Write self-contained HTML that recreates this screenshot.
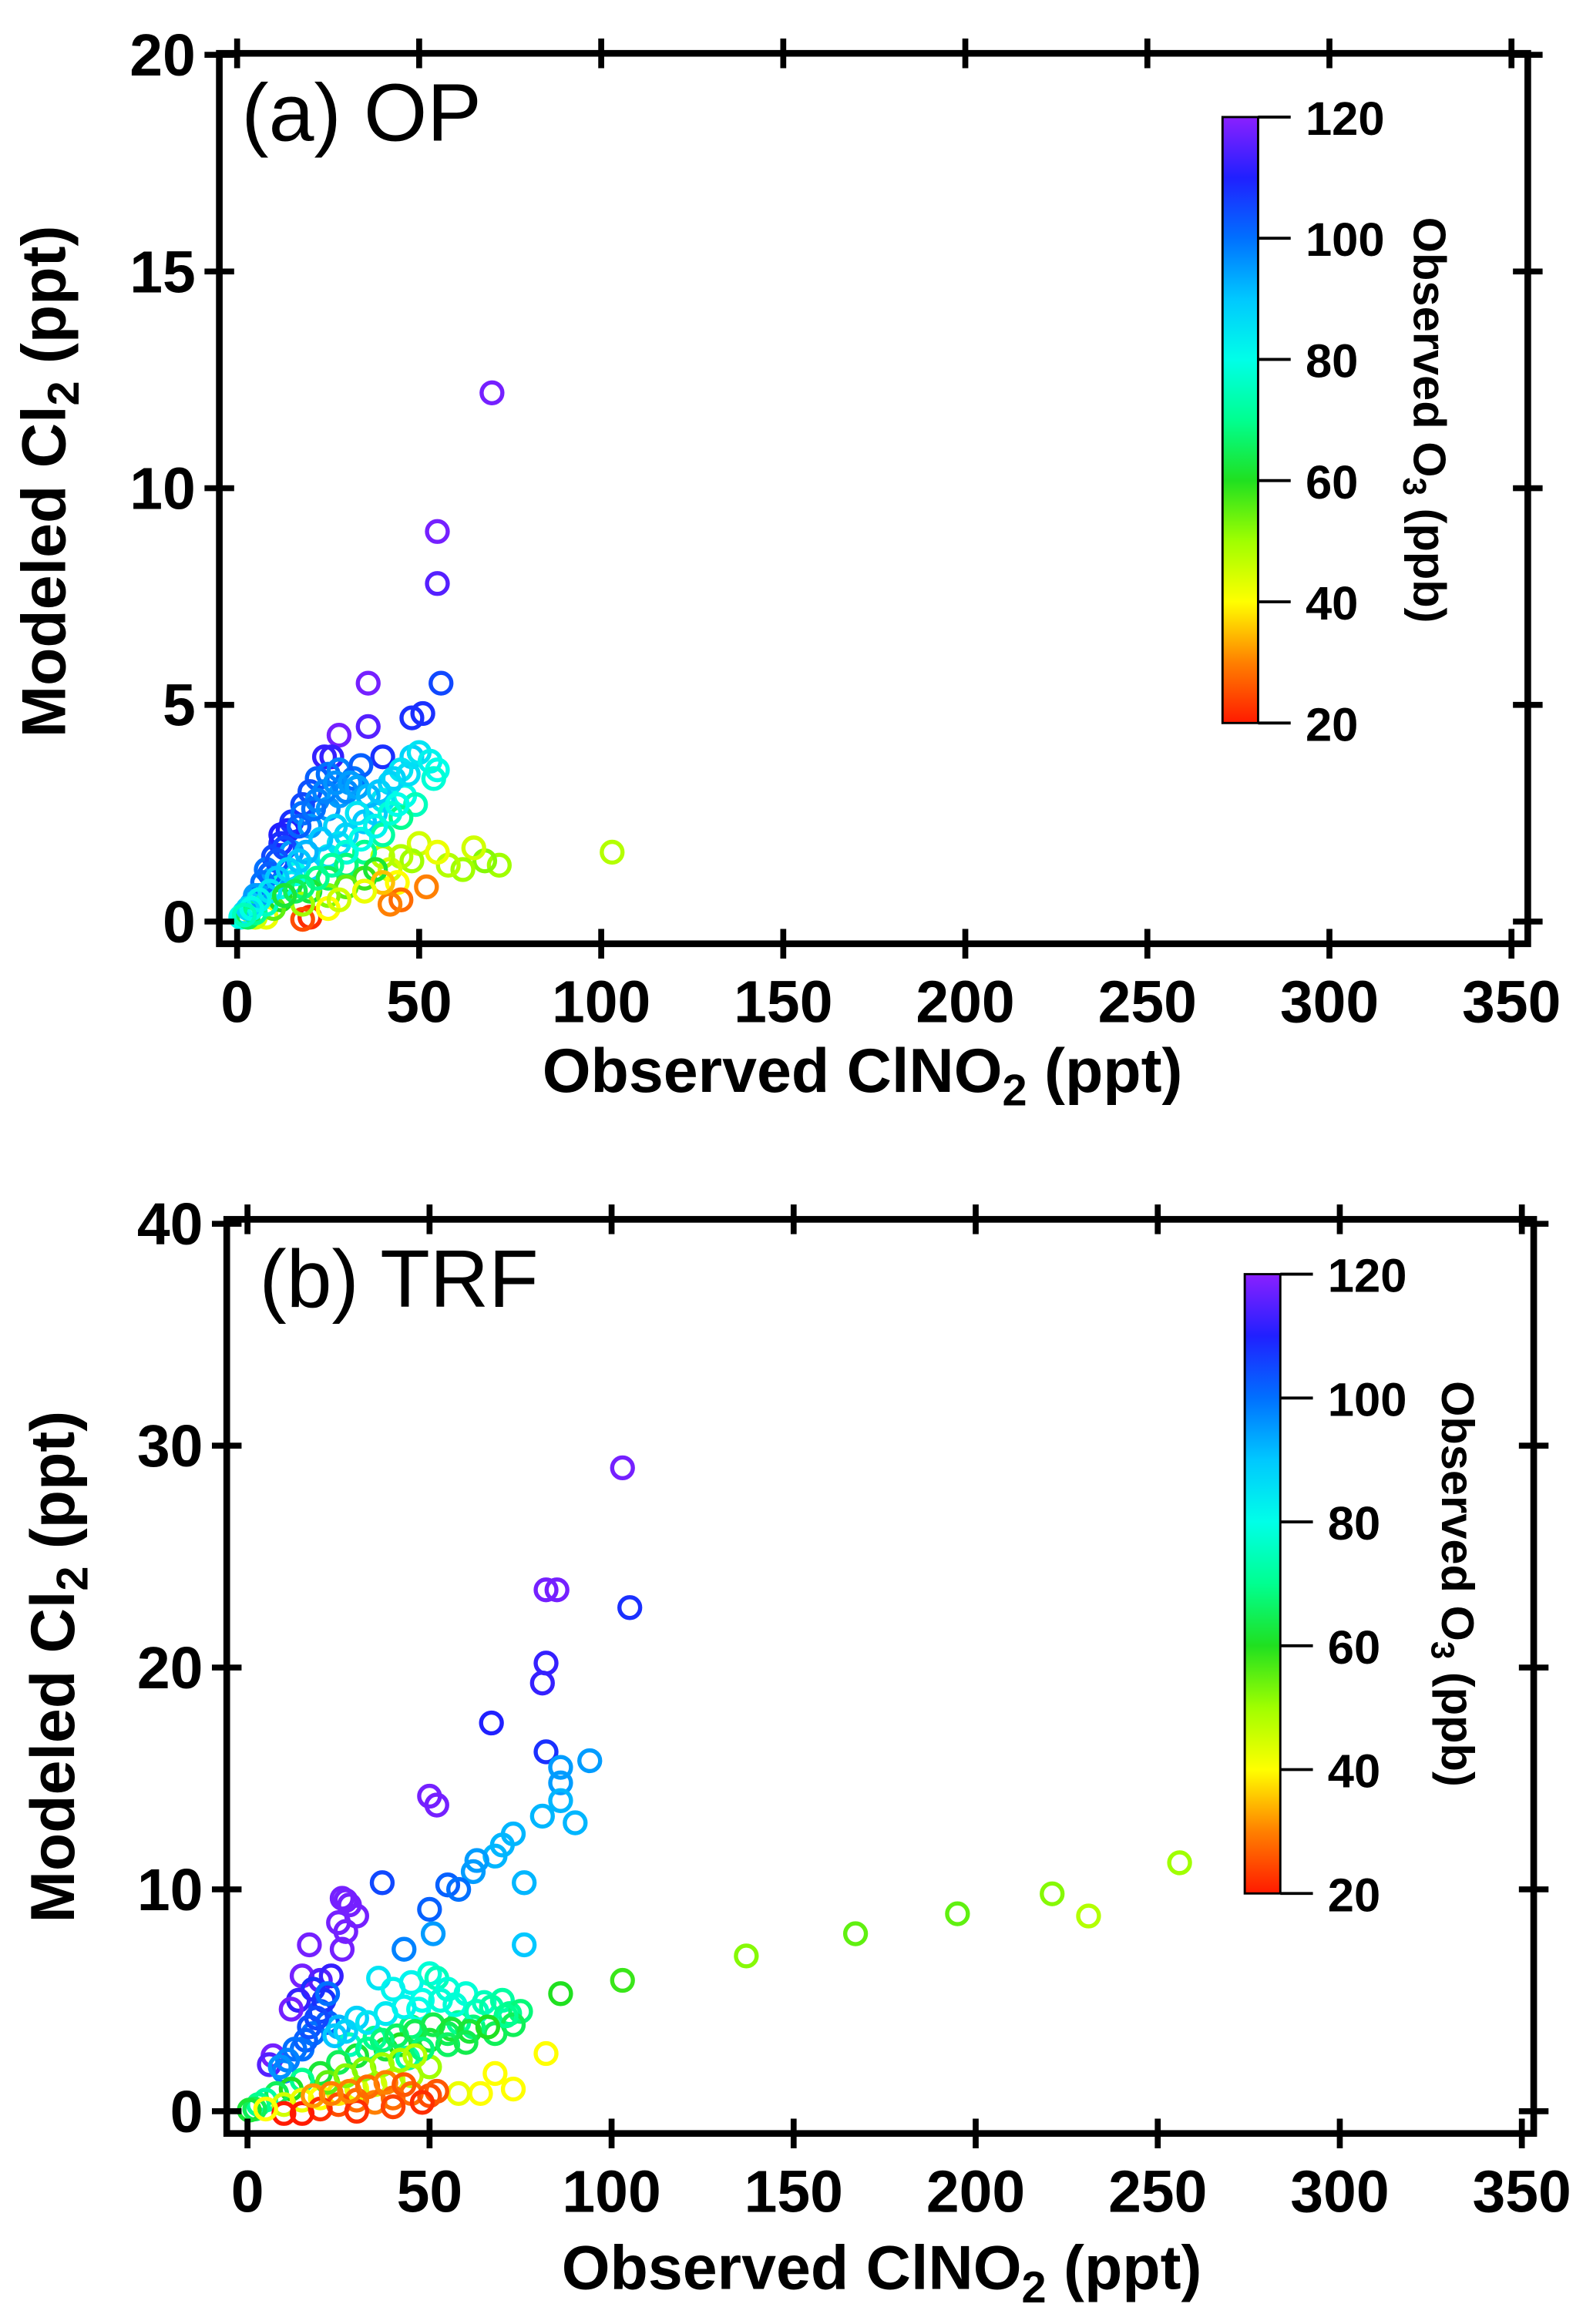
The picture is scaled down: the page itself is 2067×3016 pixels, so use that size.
<!DOCTYPE html>
<html><head><meta charset="utf-8"><style>
html,body{margin:0;padding:0;background:#fff}
svg{display:block}
text{font-family:"Liberation Sans",sans-serif}
</style></head><body>
<svg id="fig" width="2067" height="3016" viewBox="0 0 1075 1568.6" xmlns="http://www.w3.org/2000/svg">
<defs>
<linearGradient id="cmap" x1="0" y1="1" x2="0" y2="0">
<stop offset="0" stop-color="#ff1a00"/><stop offset="0.1" stop-color="#ff8000"/>
<stop offset="0.2" stop-color="#ffff00"/><stop offset="0.3" stop-color="#a0ff00"/>
<stop offset="0.4" stop-color="#20e020"/><stop offset="0.5" stop-color="#00ff90"/>
<stop offset="0.6" stop-color="#00ffe8"/><stop offset="0.7" stop-color="#00c8ff"/>
<stop offset="0.8" stop-color="#0070ff"/><stop offset="0.9" stop-color="#2020ff"/>
<stop offset="1" stop-color="#8a20ff"/>
</linearGradient>
</defs>
</svg>
<script>
const xTicks=[0,50,100,150,200,250,300,350];
const yTicksA=[0,5,10,15,20];
const yTicksB=[0,10,20,30,40];
const cbTicks=[20,40,60,80,100,120];
const ax=[70,55,55,36,56,36,48,51,28,24,26,40,103,72,68,65,62,58,50,48,45,55,42,40,44,52,45,42,20,18,8,5,48,50,53,55,54,45,42,46,49,40,38,35,30,28,25,20,15,45,40,35,30,25,20,12,35,38,30,25,18,10,40,35,25,28,22,25,28,32,34,20,18,15,14,12,10,8,12,18,22,25,28,30,20,15,10,6,4,2,1,3,5,8,12,16,
 13,17,21,24,27,31,33,11,9,7,5,3,36,39,43,47,33,27,23,19,17,14,11,9,6,4,2,30,34,38,42,44,26,22,18,16,13];
const ay=[12.2,9,7.8,5.5,5.5,4.5,4.7,4.8,4.3,3.8,3.8,3.8,1.6,1.3,1.4,1.7,1.2,1.3,1.8,1.4,1.5,1.6,1.2,1.5,0.9,0.8,0.5,0.4,0.1,0.05,0.1,0.1,3.8,3.9,3.7,3.5,3.3,3.5,3.2,2.9,2.7,2.8,2.5,2.3,2.0,1.8,1.5,1.2,0.9,2.4,2.0,1.6,1.3,1.0,0.7,0.5,1.0,1.2,0.8,0.6,0.4,0.3,0.9,0.7,0.3,0.5,3.3,3.4,3.5,3.3,3.6,3.0,2.7,2.3,2.1,1.8,1.5,1.2,2.0,2.5,2.8,2.6,2.9,3.0,2.2,1.6,1.0,0.6,0.4,0.2,0.1,0.1,0.2,0.4,0.8,1.1,
 1.7,2.2,2.6,3.0,3.2,3.2,3.1,1.4,1.1,0.9,0.6,0.3,2.9,3.0,3.3,3.4,2.5,2.2,1.9,1.6,1.4,1.2,1.0,0.7,0.5,0.3,0.15,1.6,1.9,2.2,2.5,2.7,1.3,1.0,0.8,0.7,0.6];
const ao=[118,118,115,118,105,115,108,108,118,112,112,108,48,50,52,45,50,48,45,50,48,42,45,48,40,30,28,30,22,25,42,45,88,85,82,80,78,85,88,80,75,85,88,90,88,85,85,88,85,70,72,70,68,65,62,60,58,62,55,52,50,55,35,42,40,45,102,100,98,100,102,104,105,108,110,108,105,100,110,100,98,96,95,97,95,95,95,95,90,85,80,65,70,75,78,80,
 105,102,100,98,96,95,94,104,102,100,95,88,92,90,88,86,85,88,90,92,90,88,90,85,82,80,75,78,80,82,78,80,72,70,68,65,62];
const bx=[103,82,85,105,82,81,67,82,94,86,86,86,50,52,81,90,73,70,68,63,62,76,55,58,37,50,51,43,76,256,221,195,231,167,137,103,86,82,73,68,64,58,26,27,28,30,25,27,26,17,15,20,23,18,14,12,7,6,20,22,18,15,10,25,30,36,40,45,50,52,48,55,60,65,70,72,75,73,68,62,58,55,50,45,42,38,35,30,28,25,20,15,12,8,5,3,2,0.5,10,15,20,25,30,35,40,45,50,35,40,45,50,52,30,25,20,15,30,40,48,10,5,
 21,19,17,22,16,13,11,9,24,27,33,38,43,47,53,57,63,67,71,33,37,41,46,51,56,61,66,44,48,55,60,22,27,32,37,42,46,18,23,28,33,38,43];
const by=[29,23.5,23.5,22.7,20.2,19.3,17.5,16.2,15.8,15.5,14.8,14,14.2,13.8,13.3,13,12.5,12,11.5,11.3,10.8,10.3,10.2,10,10.3,9.1,8,7.3,7.5,11.2,9.8,8.9,8.8,8,7,5.9,5.3,2.6,1,1.7,0.8,0.8,9.6,9.5,9.3,8.8,8.5,8.1,7.3,7.5,6.1,5.9,6.1,5.5,5,4.6,2.5,2.1,4.5,4.0,3.5,2.8,1.8,3.8,4.2,6.0,5.5,5.8,6.2,6.0,5.0,5.5,5.3,4.9,5.0,4.4,4.5,3.9,3.5,3.8,4.0,3.5,3.2,3.8,3.0,2.8,3.3,2.5,3.0,2.2,1.7,1.4,1.0,0.8,0.5,0.3,0.1,0.05,0.3,0.5,0.6,0.8,1.0,1.2,1.4,1.6,2.0,0.4,0.6,0.8,0.7,0.9,0.5,0.3,0.1,-0.1,0.0,0.2,0.4,-0.1,0.1,
 5.0,4.2,3.8,5.3,3.2,2.8,2.3,2.0,3.4,3.6,4.0,4.4,4.7,4.6,5.0,4.8,4.5,4.7,4.3,2.8,3.2,3.4,3.6,3.9,3.7,3.6,3.8,2.4,2.8,3.0,3.1,1.3,1.6,1.9,2.1,2.3,2.5,0.7,0.8,0.9,1.1,1.3,1.2];
const bo=[118,118,118,108,112,112,110,108,95,95,95,92,118,118,92,92,92,92,92,95,95,92,102,100,105,102,95,98,90,50,52,55,48,55,52,58,60,40,40,40,40,42,118,118,118,118,118,118,118,118,118,115,112,108,112,118,118,115,105,102,100,100,98,92,88,85,82,82,78,75,80,78,78,75,72,70,68,65,65,68,70,65,62,68,60,62,70,62,75,65,62,70,60,65,72,70,65,62,45,42,40,38,42,45,45,48,50,30,28,28,25,26,28,25,22,20,22,24,22,20,40,
 108,105,104,100,102,100,98,96,90,88,85,84,82,80,78,78,75,72,70,70,68,66,64,64,62,62,60,72,68,66,64,55,52,52,50,50,48,32,30,30,28,30,26];

const NS='http://www.w3.org/2000/svg';
const svg=document.getElementById('fig');
function el(tag,attrs,parent){const e=document.createElementNS(NS,tag);for(const k in attrs)e.setAttribute(k,attrs[k]);(parent||svg).appendChild(e);return e;}
const stops=[[20,[255,26,0]],[30,[255,128,0]],[40,[255,255,0]],[50,[160,255,0]],[60,[32,224,32]],[70,[0,255,144]],[80,[0,255,232]],[90,[0,200,255]],[100,[0,112,255]],[110,[32,32,255]],[120,[138,32,255]]];
function cmap(v){v=Math.max(20,Math.min(120,v));for(let i=0;i<stops.length-1;i++){const a=stops[i],b=stops[i+1];if(v<=b[0]){const t=(v-a[0])/(b[0]-a[0]);const c=a[1].map((q,j)=>Math.round(q+(b[1][j]-q)*t));return 'rgb('+c.join(',')+')';}}return 'rgb(138,32,255)';}

function panel(cfg){
  const g=el('g',{});
  
  
  const X=v=>cfg.x0+(v-0)*(cfg.x350-cfg.x0)/350;
  const Y=v=>cfg.y0+(v-0)*(cfg.yMaxPx-cfg.y0)/cfg.yMax;
  const L=cfg.left,R=cfg.right,T=cfg.top,B=cfg.bottom;
  const pg=el('g',{},g);
  
  
  for(let i=0;i<cfg.xs.length;i++){
    const c=el('circle',{cx:X(cfg.xs[i]),cy:Y(cfg.ys[i]),r:7,fill:'none',stroke:cmap(cfg.os[i]),'stroke-width':2.8},pg);
    
    
  }
  const fr=el('rect',{x:L,y:T,width:R-L,height:B-T,fill:'none',stroke:'#000','stroke-width':4.5},g);
  
  
  const tl=10;
  xTicks.forEach(v=>{
    const x=X(v);
    el('line',{x1:x,x2:x,y1:B-tl,y2:B+tl,stroke:'#000','stroke-width':4},g);
    el('line',{x1:x,x2:x,y1:T-tl,y2:T+tl,stroke:'#000','stroke-width':4},g);
    const t=el('text',{x:x,y:cfg.xLabY,'text-anchor':'middle','font-size':40,'font-weight':'bold'},g);
    t.textContent=v;
    
    
  });
  cfg.yTicks.forEach(v=>{
    const y=Y(v);
    el('line',{x1:L-tl,x2:L+tl,y1:y,y2:y,stroke:'#000','stroke-width':4},g);
    el('line',{x1:R-tl,x2:R+tl,y1:y,y2:y,stroke:'#000','stroke-width':4},g);
    const t=el('text',{x:L-16,y:y+14,'text-anchor':'end','font-size':40,'font-weight':'bold'},g);
    t.textContent=v;
    
    
  });
  const xt=el('text',{x:cfg.xTitleX,y:cfg.xTitleY,'text-anchor':'middle','font-size':42,'font-weight':'bold'},g);
  xt.innerHTML='Observed ClNO<tspan font-size="30" dy="9">2</tspan><tspan dy="-9"> (ppt)</tspan>';
  
  
  const yt=el('text',{x:0,y:0,'text-anchor':'middle','font-size':42,'font-weight':'bold',transform:'translate('+cfg.yTitleX+','+cfg.yTitleY+') rotate(-90)'},g);
  yt.innerHTML='Modeled Cl<tspan font-size="30" dy="9">2</tspan><tspan dy="-9"> (ppt)</tspan>';
  
  
  const pl=el('text',{x:cfg.labX,y:cfg.labY,'font-size':55},g);
  pl.textContent=cfg.label;
  
  
  const cb=el('g',{},g);
  
  
  el('rect',{x:cfg.cbX,y:cfg.cbT,width:24,height:cfg.cbB-cfg.cbT,fill:'url(#cmap)',stroke:'#000','stroke-width':1.5},cb);
  cbTicks.forEach(v=>{
    const y=cfg.cbB-(v-20)*(cfg.cbB-cfg.cbT)/100;
    el('line',{x1:cfg.cbX+24,x2:cfg.cbX+46,y1:y,y2:y,stroke:'#000','stroke-width':2},cb);
    const t=el('text',{x:cfg.cbX+56,y:y+12,'font-size':32,'font-weight':'bold'},cb);
    t.textContent=v;
    
    
  });
  const ct=el('text',{x:0,y:0,'text-anchor':'middle','font-size':31,'font-weight':'bold',transform:'translate('+cfg.cbTitleX+','+((cfg.cbT+cfg.cbB)/2)+') rotate(90)'},cb);
  ct.innerHTML='Observed O<tspan font-size="22" dy="7">3</tspan><tspan dy="-7"> (ppb)</tspan>';
  
  
}
panel({name:'panel-a-op',xs:ax,ys:ay,os:ao,left:148,right:1031,top:36,bottom:637,x0:160,x350:1020,y0:622,yMaxPx:37,yMax:20,yTicks:yTicksA,xLabY:690,xTitleX:582,xTitleY:737,yTitleX:44,yTitleY:325,labX:163,labY:95,label:'(a) OP',cbX:825,cbT:79,cbB:488,cbTitleX:954});
panel({name:'panel-b-trf',xs:bx,ys:by,os:bo,left:153,right:1035,top:823,bottom:1440,x0:167,x350:1027,y0:1425,yMaxPx:826,yMax:40,yTicks:yTicksB,xLabY:1493,xTitleX:595,xTitleY:1545,yTitleX:50,yTitleY:1125,labX:175,labY:882,label:'(b) TRF',cbX:840,cbT:860,cbB:1278,cbTitleX:973});
</script>
</body></html>
